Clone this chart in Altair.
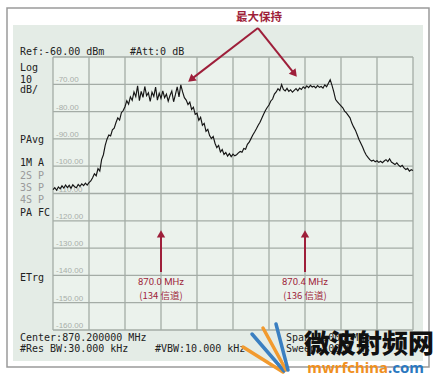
import altair as alt
import pandas as pd

# ---------------- data ----------------
F_START = 869.7          # MHz, left edge (center 870.2, span 1 MHz)
F_STEP = 0.005           # MHz per sweep point
trace_db = [
    -108.6, -107.9, -108.8, -107.6, -108.3, -107.2, -108.0, -106.9, -107.8, -107.0,
    -108.1, -106.8, -107.5, -107.9, -106.7, -107.4, -106.5, -107.1, -106.2, -106.9,
    -106.0, -105.4, -104.2, -102.8, -103.5, -100.9, -101.8, -97.6, -95.8, -92.4,
    -90.1, -88.6, -88.9, -86.7, -86.1, -84.0, -82.3, -83.1, -80.4, -79.6,
    -78.2, -76.0, -77.3, -74.6, -75.9, -72.8, -74.5, -70.6, -76.0, -72.6,
    -74.8, -70.8, -74.2, -73.1, -76.3, -72.9, -74.4, -71.0, -75.8, -73.3,
    -75.2, -72.4, -74.9, -73.6, -76.2, -74.1, -72.5, -76.4, -73.8, -70.9,
    -74.6, -70.2, -72.8, -74.9, -75.8, -77.4, -76.5, -79.2, -78.4, -81.0,
    -80.6, -83.2, -82.1, -85.0, -84.3, -87.2, -86.5, -88.8, -89.9, -89.1,
    -91.6, -93.2, -92.4, -94.8, -93.9, -95.7, -95.0, -96.3, -95.4, -96.5,
    -95.6, -96.2, -95.8, -95.1, -94.6, -94.9, -93.5, -93.8, -92.0, -91.2,
    -89.9, -88.6, -87.5, -86.3, -85.0, -83.9, -82.4, -81.0, -79.6, -78.5,
    -77.6, -76.1, -75.4, -73.6, -72.8, -71.6, -72.3, -70.1, -71.9, -72.4,
    -71.5, -72.6, -72.0, -72.9, -72.2, -71.6, -72.4, -71.4, -71.9, -70.9,
    -71.5, -70.6, -71.2, -70.4, -71.0, -70.7, -71.3, -70.5, -71.1, -70.8,
    -71.4, -70.2, -70.9, -69.6, -68.3, -70.4, -72.8, -75.6, -76.4, -77.2,
    -77.9, -78.6, -79.8, -80.5, -81.4, -82.3, -84.2, -85.6, -86.8, -88.5,
    -90.2, -91.6, -93.0, -94.6, -95.9, -96.8, -97.6, -98.1, -97.8, -98.4,
    -98.0, -98.6, -98.2, -98.7, -98.1, -97.6, -98.3, -97.3, -98.5, -98.9,
    -99.4, -98.8, -99.6, -100.2, -99.7, -100.6, -101.2, -100.8, -101.8, -101.3,
    -101.6,
]
freq_mhz = [round(F_START + F_STEP * i, 3) for i in range(len(trace_db))]

x_grid = [869.7, 869.8, 869.9, 870.0, 870.1, 870.2, 870.3, 870.4, 870.5, 870.6, 870.7]
y_grid = [-60, -70, -80, -90, -100, -110, -120, -130, -140, -150, -160]
y_label_vals = [-70, -80, -90, -100, -110, -120, -130, -140, -150, -160]
y_label_txt = ["-70.00", "-80.00", "-90.00", "-100.00", "-110.00", "-120.00",
               "-130.00", "-140.00", "-150.00", "-160.00"]

channel_f = [870.0, 870.4]
channel_txt1 = ["870.0 MHz", "870.4 MHz"]
channel_txt2 = ["(134 信道)", "(136 信道)"]
ch_arrow_tip_db = -124.8
ch_arrow_tail_db = -138.8
ch_txt1_db = -142.6
ch_txt2_db = -147.4

hold_src = (870.2694, -49.4)
hold_dst = [(870.0836, -68.2), (870.3708, -66.2)]
hold_title_pos = (870.272, -45.8)

# ---------------- styling ----------------
RED = "#9e1f3a"
W, H = 360, 273
xs = alt.Scale(domain=[869.7, 870.7], nice=False, zero=False)
ys = alt.Scale(domain=[-160, -60], nice=False, zero=False)
MONO = "DejaVu Sans Mono"
one = pd.DataFrame({"a": [0]})


def px_rect(x1, x2, y1, y2, **kw):
    return alt.Chart(one).mark_rect(**kw).encode(
        x=alt.value(x1), x2=alt.value(x2), y=alt.value(y1), y2=alt.value(y2))


def px_text(s, x, y, **kw):
    opts = dict(font=MONO, fontSize=10, color="#222", align="left", baseline="middle")
    opts.update(kw)
    return alt.Chart(one).mark_text(text=s, **opts).encode(x=alt.value(x), y=alt.value(y))


def px_rule(x1, y1, x2, y2, color, w):
    return alt.Chart(one).mark_rule(color=color, strokeWidth=w, strokeCap="round").encode(
        x=alt.value(x1), x2=alt.value(x2), y=alt.value(y1), y2=alt.value(y2))


layers = []
# frame and panel
layers.append(px_rect(-46, 376, -49, 310, fill="white", stroke="#9a9a9a", strokeWidth=1.5))
layers.append(px_rect(-40, 370, -32, 304, fill="#e4ece6"))
layers.append(px_rect(0, W, 0, H, fill="#ebf2ec"))

# grid
gx = pd.DataFrame({"f": x_grid})
gy = pd.DataFrame({"db": y_grid})
layers.append(alt.Chart(gx).mark_rule(color="#a4aca6", strokeWidth=1.3).encode(
    x=alt.X("f:Q", scale=xs, axis=None)))
layers.append(alt.Chart(gy).mark_rule(color="#a4aca6", strokeWidth=1.3).encode(
    y=alt.Y("db:Q", scale=ys, axis=None)))

# y labels inside plot
yl = pd.DataFrame({"db": y_label_vals, "t": y_label_txt})
layers.append(alt.Chart(yl).mark_text(font="Liberation Sans", fontSize=8, color="#a8aea9",
                                      align="left", baseline="alphabetic", dx=3, dy=-2).encode(
    x=alt.value(0), y=alt.Y("db:Q", scale=ys, axis=None), text="t:N"))

# trace
tr = pd.DataFrame({"f": freq_mhz, "db": trace_db})
layers.append(alt.Chart(tr).mark_line(color="#141414", strokeWidth=1.15).encode(
    x=alt.X("f:Q", scale=xs, axis=None), y=alt.Y("db:Q", scale=ys, axis=None)))

# left / header / footer texts
layers += [
    px_text("Ref:-60.00 dBm", -33, -5),
    px_text("#Att:0 dB", 77, -5),
    px_text("Log", -33, 11),
    px_text("10", -33, 23),
    px_text("dB/", -33, 33),
    px_text("PAvg", -33, 83),
    px_text("1M A", -33, 106),
    px_text("2S P", -33, 119, color="#9a9a9a"),
    px_text("3S P", -33, 131, color="#9a9a9a"),
    px_text("4S P", -33, 143, color="#9a9a9a"),
    px_text("PA FC", -33, 156),
    px_text("ETrg", -33, 221),
    px_text("Center:870.200000 MHz", -33, 281),
    px_text("#Res BW:30.000 kHz", -33, 292),
    px_text("#VBW:10.000 kHz", 102, 292),
    px_text("Span:1.000 MHz", 233, 281),
    px_text("Sweep:500.0 ms", 233, 292),
]

# channel arrows
ch = pd.DataFrame({"f": channel_f, "t1": channel_txt1, "t2": channel_txt2,
                   "tip": [ch_arrow_tip_db] * 2, "tail": [ch_arrow_tail_db] * 2,
                   "y1": [ch_txt1_db] * 2, "y2": [ch_txt2_db] * 2})
layers.append(alt.Chart(ch).mark_rule(color=RED, strokeWidth=2).encode(
    x=alt.X("f:Q", scale=xs), y=alt.Y("tip:Q", scale=ys), y2="tail:Q"))
layers.append(alt.Chart(ch).mark_point(shape="triangle-up", filled=True, size=70,
                                       color=RED, opacity=1).encode(
    x=alt.X("f:Q", scale=xs), y=alt.Y("tip:Q", scale=ys)))
layers.append(alt.Chart(ch).mark_text(font="Roboto", fontSize=9.5, color=RED,
                                      baseline="middle").encode(
    x=alt.X("f:Q", scale=xs), y=alt.Y("y1:Q", scale=ys), text="t1:N"))
layers.append(alt.Chart(ch).mark_text(font="Noto Sans CJK SC", fontSize=9.5, color=RED,
                                      baseline="middle").encode(
    x=alt.X("f:Q", scale=xs), y=alt.Y("y2:Q", scale=ys), text="t2:N"))

# max-hold arrows
for (df_, ddb), ang in zip(hold_dst, [231, 141.5]):
    a = pd.DataFrame({"f1": [hold_src[0]], "d1": [hold_src[1]], "f2": [df_], "d2": [ddb]})
    layers.append(alt.Chart(a).mark_rule(color=RED, strokeWidth=2).encode(
        x=alt.X("f1:Q", scale=xs), x2="f2:Q", y=alt.Y("d1:Q", scale=ys), y2="d2:Q"))
    layers.append(alt.Chart(a).mark_point(shape="triangle-up", filled=True, size=75,
                                          color=RED, opacity=1, angle=ang).encode(
        x=alt.X("f2:Q", scale=xs), y=alt.Y("d2:Q", scale=ys)))
ht = pd.DataFrame({"f": [hold_title_pos[0]], "db": [hold_title_pos[1]], "t": ["最大保持"]})
layers.append(alt.Chart(ht).mark_text(font="Noto Sans CJK SC", fontSize=11.5, fontWeight="bold",
                                      color=RED, baseline="middle").encode(
    x=alt.X("f:Q", scale=xs), y=alt.Y("db:Q", scale=ys), text="t:N"))

# watermark
layers += [
    px_rule(230, 315, 190, 290, "#f29a2e", 3.5),
    px_rule(231, 314, 199, 277, "#3a7fc1", 3.5),
    px_rule(233, 313, 210, 271, "#f29a2e", 3.5),
    px_rule(235, 313, 223, 267, "#3a7fc1", 3.5),
    px_text("微波射频网", 316, 288, font="Noto Sans CJK SC", fontSize=26, fontWeight=900,
            color="#111", align="center"),
    px_text("mwrfchina", 335, 311, font="Noto Sans", fontSize=15, fontWeight="bold",
            color="#f0901e", align="right"),
    px_text(".com", 335, 311, font="Noto Sans", fontSize=15, fontWeight="bold",
            color="#2a78c0", align="left"),
]

chart = alt.layer(*layers).properties(
    width=W, height=H,
    padding={"left": 53, "top": 57, "right": 24, "bottom": 46},
    autosize=alt.AutoSizeParams(type="none"),
    background="white",
).configure_view(stroke=None)

chart.save("out.html", embed_options={"renderer": "svg", "actions": False})
